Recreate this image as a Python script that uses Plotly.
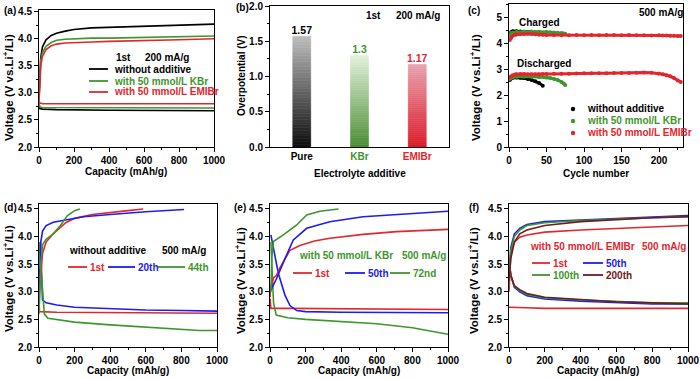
import plotly.graph_objects as go

W, H = 700, 379
FONT = "Liberation Sans, Arial, sans-serif"
RED = "#e3262d"
GREEN = "#3f962c"
BLUE = "#1c1cf5"
BLACK = "#000000"
BROWN = "#6e1c1c"

# ---------------- (a) 1st cycle, 200 mA/g ----------------
a_cap_chg = [0, 5, 10, 20, 40, 70, 100, 150, 200, 300, 400, 600, 800, 1000]
a_chg_none = [2.9, 3.4, 3.65, 3.85, 3.98, 4.06, 4.10, 4.14, 4.17, 4.20, 4.21, 4.23, 4.25, 4.27]
a_chg_kbr = [2.9, 3.35, 3.6, 3.75, 3.86, 3.93, 3.97, 3.99, 4.0, 4.01, 4.01, 4.02, 4.04, 4.05]
a_chg_emi = [2.85, 3.25, 3.5, 3.68, 3.80, 3.87, 3.90, 3.92, 3.93, 3.94, 3.95, 3.96, 3.98, 4.0]
a_cap_dis = [0, 5, 20, 100, 400, 700, 1000]
a_dis_none = [2.8, 2.71, 2.70, 2.69, 2.68, 2.67, 2.67]
a_dis_kbr = [2.8, 2.74, 2.73, 2.73, 2.72, 2.72, 2.72]
a_dis_emi = [2.85, 2.81, 2.80, 2.80, 2.80, 2.80, 2.80]

# ---------------- (b) overpotential ----------------
b_cats = ["Pure", "KBr", "EMIBr"]
b_vals = [1.57, 1.30, 1.17]
b_labels = ["1.57", "1.3", "1.17"]

# ---------------- (c) cycling at 500 mA/g ----------------
c_cyc_none = [1, 3, 5, 10, 15, 20, 25, 30, 35, 40, 45]
c_chg_none = [4.35, 4.42, 4.45, 4.45, 4.44, 4.43, 4.42, 4.41, 4.40, 4.39, 4.38]
c_dis_none = [2.58, 2.63, 2.66, 2.67, 2.66, 2.65, 2.62, 2.58, 2.53, 2.46, 2.36]
c_cyc_kbr = [1, 3, 5, 10, 20, 30, 40, 50, 55, 60, 65, 70, 73, 75]
c_chg_kbr = [4.30, 4.38, 4.40, 4.42, 4.43, 4.44, 4.43, 4.42, 4.41, 4.40, 4.39, 4.38, 4.37, 4.36]
c_dis_kbr = [2.62, 2.66, 2.68, 2.70, 2.71, 2.70, 2.69, 2.67, 2.65, 2.62, 2.58, 2.50, 2.44, 2.38]
c_cyc_emi = [1, 3, 5, 8, 10, 15, 20, 25, 30, 35, 40, 45, 50, 60, 70, 80, 90, 100, 110, 120,
             130, 140, 150, 160, 170, 180, 190, 200, 205, 210, 215, 220, 225, 229]
c_chg_emi = [4.12, 4.20, 4.28, 4.32, 4.33, 4.34, 4.35, 4.36, 4.35, 4.34, 4.32, 4.32, 4.31, 4.31,
             4.30, 4.30, 4.31, 4.30, 4.31, 4.30, 4.31, 4.31, 4.30, 4.31, 4.30, 4.30, 4.29, 4.30,
             4.29, 4.29, 4.28, 4.28, 4.27, 4.27]
c_dis_emi = [2.68, 2.72, 2.76, 2.79, 2.80, 2.81, 2.81, 2.80, 2.80, 2.80, 2.80, 2.81, 2.81, 2.82,
             2.82, 2.82, 2.83, 2.84, 2.84, 2.84, 2.84, 2.85, 2.85, 2.85, 2.86, 2.87, 2.86, 2.83,
             2.80, 2.76, 2.72, 2.65, 2.56, 2.50]

# ---------------- (d) without additive, 500 mA/g ----------------
d1_chg_x = [0, 3, 10, 20, 40, 80, 150, 200, 300, 400, 500, 585]
d1_chg_y = [2.65, 3.0, 3.3, 3.7, 3.9, 4.05, 4.25, 4.33, 4.40, 4.44, 4.47, 4.50]
d1_dis_x = [0, 3, 100, 500, 1000]
d1_dis_y = [2.8, 2.64, 2.63, 2.62, 2.61]
d20_chg_x = [0, 5, 10, 20, 40, 80, 150, 250, 400, 600, 815]
d20_chg_y = [2.9, 3.5, 3.9, 4.1, 4.2, 4.26, 4.30, 4.36, 4.40, 4.45, 4.49]
d20_dis_x = [8, 15, 20, 40, 100, 200, 400, 600, 800, 1000]
d20_dis_y = [3.9, 3.2, 2.85, 2.80, 2.76, 2.72, 2.69, 2.67, 2.66, 2.65]
d44_chg_x = [0, 10, 20, 40, 80, 120, 160, 200, 230]
d44_chg_y = [2.6, 3.5, 3.85, 3.95, 4.05, 4.2, 4.38, 4.47, 4.50]
d44_dis_x = [0, 10, 20, 30, 50, 100, 200, 400, 600, 800, 900, 1000]
d44_dis_y = [3.9, 3.5, 3.0, 2.6, 2.52, 2.50, 2.45, 2.40, 2.36, 2.33, 2.30, 2.30]

# ---------------- (e) 50 mmol/L KBr, 500 mA/g ----------------
e1_chg_x = [0, 5, 20, 37, 50, 75, 112, 168, 250, 336, 523, 710, 1000]
e1_chg_y = [2.9, 3.1, 3.25, 3.3, 3.4, 3.54, 3.75, 3.84, 3.92, 3.97, 4.04, 4.09, 4.13]
e1_dis_x = [0, 5, 100, 500, 1000]
e1_dis_y = [2.88, 2.70, 2.70, 2.69, 2.68]
e50_chg_x = [0, 37, 84, 131, 206, 336, 523, 710, 1000]
e50_chg_y = [3.0, 3.24, 3.6, 3.94, 4.15, 4.27, 4.36, 4.40, 4.46]
e50_dis_x = [5, 47, 84, 112, 150, 200, 400, 700, 1000]
e50_dis_y = [4.03, 3.33, 2.94, 2.75, 2.66, 2.64, 2.63, 2.62, 2.62]
e72_chg_x = [5, 10, 19, 40, 75, 150, 206, 280, 385]
e72_chg_y = [3.0, 3.6, 3.91, 3.95, 4.03, 4.21, 4.39, 4.46, 4.50]
e72_dis_x = [5, 10, 20, 35, 100, 200, 400, 600, 800, 1000]
e72_dis_y = [3.9, 3.5, 2.8, 2.58, 2.53, 2.50, 2.46, 2.42, 2.35, 2.23]

# ---------------- (f) 50 mmol/L EMIBr, 500 mA/g ----------------
f_cap = [0, 10, 30, 60, 100, 200, 400, 600, 800, 1000]
f1_chg_y = [3.0, 3.7, 3.9, 3.99, 4.03, 4.08, 4.12, 4.15, 4.17, 4.20]
f1_dis_y = [2.72, 2.72, 2.72, 2.71, 2.71, 2.70, 2.70, 2.70, 2.70, 2.70]
f50_chg_y = [3.3, 3.8, 4.05, 4.15, 4.22, 4.27, 4.30, 4.33, 4.35, 4.38]
f50_dis_y = [3.6, 3.3, 3.08, 3.0, 2.93, 2.87, 2.83, 2.80, 2.78, 2.78]
f100_chg_y = [3.3, 3.75, 4.0, 4.12, 4.2, 4.25, 4.29, 4.32, 4.34, 4.36]
f100_dis_y = [3.6, 3.3, 3.1, 3.02, 2.95, 2.89, 2.85, 2.82, 2.80, 2.80]
f200_chg_y = [3.2, 3.6, 3.9, 4.05, 4.12, 4.2, 4.27, 4.31, 4.34, 4.36]
f200_dis_y = [3.55, 3.3, 3.11, 3.04, 2.97, 2.90, 2.86, 2.82, 2.80, 2.78]


def xd(l, r):
    return [l / W, r / W]


def yd(t, b):
    return [1 - b / H, 1 - t / H]


def px(x):
    return x / W


def py(y):
    return 1 - y / H


fig = go.Figure()


def line(x, y, color, xa, ya, w=1.6):
    fig.add_trace(go.Scatter(x=x, y=y, mode="lines", line=dict(color=color, width=w),
                             xaxis=xa, yaxis=ya, showlegend=False, hoverinfo="skip"))


# (a)
for xs, ys, c in [(a_cap_dis, a_dis_none, BLACK), (a_cap_dis, a_dis_kbr, GREEN), (a_cap_dis, a_dis_emi, RED),
                  (a_cap_chg, a_chg_none, BLACK), (a_cap_chg, a_chg_kbr, GREEN), (a_cap_chg, a_chg_emi, RED)]:
    line(xs, ys, c, "x", "y")

# (b) gradient bars built from stacked segments
N = 40
grad = {"Pure": ("#0c0c0c", "#bdbdbd"), "KBr": ("#4a8c34", "#e2f1da"), "EMIBr": ("#dc1a28", "#e8a3b0")}


def mix(c1, c2, t):
    a = [int(c1[i:i + 2], 16) for i in (1, 3, 5)]
    b = [int(c2[i:i + 2], 16) for i in (1, 3, 5)]
    return "rgb(%d,%d,%d)" % tuple(round(a[k] + (b[k] - a[k]) * t) for k in range(3))


for cat, v in zip(b_cats, b_vals):
    c1, c2 = grad[cat]
    cols = [mix(c1, c2, (i + 0.5) / N) for i in range(N)]
    fig.add_trace(go.Bar(x=[cat] * N, y=[v / N] * N, base=[i * v / N for i in range(N)],
                         marker=dict(color=cols, line=dict(width=0.6, color=cols)),
                         width=0.31, xaxis="x2", yaxis="y2", showlegend=False, hoverinfo="skip"))
fig.add_trace(go.Scatter(x=b_cats, y=b_vals, mode="text", text=b_labels, textposition="top center",
                         textfont=dict(family=FONT, size=10.5, color=[BLACK, GREEN, RED], weight="bold"),
                         xaxis="x2", yaxis="y2", showlegend=False, hoverinfo="skip"))

# (c)
for xs, ys, c in [(c_cyc_none, c_chg_none, BLACK), (c_cyc_none, c_dis_none, BLACK),
                  (c_cyc_kbr, c_chg_kbr, GREEN), (c_cyc_kbr, c_dis_kbr, GREEN),
                  (c_cyc_emi, c_chg_emi, RED), (c_cyc_emi, c_dis_emi, RED)]:
    fig.add_trace(go.Scatter(x=xs, y=ys, mode="lines+markers", line=dict(color=c, width=3),
                             marker=dict(color=c, size=4), xaxis="x3", yaxis="y3",
                             showlegend=False, hoverinfo="skip"))

# (d)
for xs, ys, c in [(d1_dis_x, d1_dis_y, RED), (d20_dis_x, d20_dis_y, BLUE), (d44_dis_x, d44_dis_y, GREEN),
                  (d1_chg_x, d1_chg_y, RED), (d20_chg_x, d20_chg_y, BLUE), (d44_chg_x, d44_chg_y, GREEN)]:
    line(xs, ys, c, "x4", "y4")

# (e)
for xs, ys, c in [(e1_dis_x, e1_dis_y, RED), (e50_dis_x, e50_dis_y, BLUE), (e72_dis_x, e72_dis_y, GREEN),
                  (e1_chg_x, e1_chg_y, RED), (e50_chg_x, e50_chg_y, BLUE), (e72_chg_x, e72_chg_y, GREEN)]:
    line(xs, ys, c, "x5", "y5")

# (f)
for ys, c in [(f1_dis_y, RED), (f50_dis_y, BLUE), (f100_dis_y, GREEN), (f200_dis_y, BROWN),
              (f1_chg_y, RED), (f50_chg_y, BLUE), (f100_chg_y, GREEN), (f200_chg_y, BROWN)]:
    line(f_cap, ys, c, "x6", "y6")

tickfont = dict(family=FONT, size=10, color="black", weight="bold")


def ax(domain, rng, dtick=None, minor=None, fmt=None, anchor=None, **kw):
    d = dict(domain=domain, range=rng, showline=True, linecolor="black", linewidth=1, mirror=True,
             ticks="outside", ticklen=4, tickwidth=1, tickcolor="black", tickfont=tickfont,
             showgrid=False, zeroline=False, anchor=anchor, automargin=False)
    if dtick is not None:
        d["dtick"] = dtick
        d["tick0"] = 0
    if minor is not None:
        d["minor"] = dict(ticks="outside", ticklen=2, tickwidth=1, tickcolor="black", dtick=minor, tick0=0,
                          showgrid=False)
    if fmt:
        d["tickformat"] = fmt
    d.update(kw)
    return d


TOP_B = 147
BOT_B = 347
layout = dict(
    template="none",
    width=W, height=H, margin=dict(l=0, r=0, t=0, b=0, pad=0, autoexpand=False),
    paper_bgcolor="white", plot_bgcolor="white",
    barmode="overlay", showlegend=False,
    xaxis=ax(xd(39, 214), [0, 1000], 200, 100, None, "y"),
    yaxis=ax(yd(10, TOP_B), [2.0, 4.53], 0.5, 0.25, ".1f", "x"),
    xaxis2=ax(xd(270, 449), [-0.55, 2.55], None, None, None, "y2", type="category",
              categoryorder="array", categoryarray=b_cats, ticks="", tickmode="array", tickvals=b_cats,
              ticktext=["Pure", "<span style='color:%s'>KBr</span>" % GREEN,
                        "<span style='color:%s'>EMIBr</span>" % RED]),
    yaxis2=ax(yd(6, TOP_B), [0, 2.0], 0.5, 0.25, ".1f", "x2"),
    xaxis3=ax(xd(509, 683), [0, 232], 50, 25, None, "y3"),
    yaxis3=ax(yd(4, TOP_B), [0, 5.5], 1, 0.5, None, "x3"),
    xaxis4=ax(xd(39, 217), [0, 1000], 200, 100, None, "y4"),
    yaxis4=ax(yd(204, BOT_B), [2.0, 4.59], 0.5, 0.25, ".1f", "x4"),
    xaxis5=ax(xd(270, 448), [0, 1000], 200, 100, None, "y5"),
    yaxis5=ax(yd(204, BOT_B), [2.0, 4.59], 0.5, 0.25, ".1f", "x5"),
    xaxis6=ax(xd(509, 688), [0, 1000], 200, 100, None, "y6"),
    yaxis6=ax(yd(204, BOT_B), [2.0, 4.59], 0.5, 0.25, ".1f", "x6"),
)
fig.update_layout(**layout)

annotations = []
shapes = []


def txt(s, x, y, color=BLACK, size=10, xanchor="left", angle=0):
    annotations.append(dict(text=s, x=px(x), y=py(y), xref="paper", yref="paper", showarrow=False,
                            xanchor=xanchor, yanchor="middle", textangle=angle,
                            font=dict(family=FONT, size=size, color=color, weight="bold")))


def seg(x0, x1, y, color, w=1.8):
    shapes.append(dict(type="line", xref="paper", yref="paper", x0=px(x0), x1=px(x1), y0=py(y), y1=py(y),
                       line=dict(color=color, width=w)))


def dot(x, y, color, r=2.2):
    shapes.append(dict(type="circle", xref="paper", yref="paper", x0=px(x - r), x1=px(x + r),
                       y0=py(y + r), y1=py(y - r), fillcolor=color, line=dict(width=0)))


VT = "Voltage (V vs.Li<sup>+</sup>/Li)"
CAP = "Capacity (mAh/g)"
VS = 11.5

# panel labels
for lab, x, y in [("(a)", 2, 11), ("(b)", 234, 8), ("(c)", 466, 10), ("(d)", 2, 207), ("(e)", 232, 207),
                  ("(f)", 467, 207)]:
    txt(lab, x, y)

# axis titles
txt(VT, 8, 88, xanchor="center", angle=-90, size=VS)
txt(CAP, 126, 172, xanchor="center")
txt("Overpotential (V)", 242, 76, xanchor="center", angle=-90)
txt("Electrolyte additive", 360, 173, xanchor="center")
txt(VT, 475, 88, xanchor="center", angle=-90, size=VS)
txt("Cycle number", 596, 173, xanchor="center")
txt(VT, 8, 279, xanchor="center", angle=-90, size=VS)
txt(CAP, 128, 370, xanchor="center")
txt(VT, 240, 281, xanchor="center", angle=-90, size=VS)
txt(CAP, 359, 370, xanchor="center")
txt(VT, 473, 281, xanchor="center", angle=-90, size=VS)
txt(CAP, 598, 370, xanchor="center")

# (a) legend
txt("1st", 114, 57)
txt("200 mA/g", 143, 57)
for y, c, s in [(69, BLACK, "without additive"), (81, GREEN, "with 50 mmol/L KBr"),
                (92, RED, "with 50 mmol/L EMIBr")]:
    seg(89, 108, y, c)
    txt(s, 112, y, color=c)

# (b)
txt("1st", 364, 15)
txt("200 mA/g", 394, 15)

# (c)
txt("500 mA/g", 637, 12)
txt("Charged", 517, 23)
txt("Discharged", 515, 63)
for y, c, s in [(109, BLACK, "without additive"), (121, GREEN, "with 50 mmol/L KBr"),
                (133, RED, "with 50 mmol/L EMIBr")]:
    dot(573, y, c)
    txt(s, 585, y, color=c)

# (d)
txt("without additive", 67, 250)
txt("500 mA/g", 160, 250)
for x0, x1, c, s in [(68, 87, RED, "1st"), (108, 135, BLUE, "20th"), (158, 185, GREEN, "44th")]:
    seg(x0, x1, 267, c)
    txt(s, x1 + 1, 267, color=c)

# (e)
txt("with 50 mmol/L KBr", 297, 255, color=GREEN)
txt("500 mA/g", 400, 255, color=GREEN)
for x0, x1, c, s in [(293, 312, RED, "1st"), (345, 365, BLUE, "50th"), (390, 410, GREEN, "72nd")]:
    seg(x0, x1, 273, c)
    txt(s, x1 + 1, 273, color=c)

# (f)
txt("with 50 mmol/L EMIBr", 528, 246, color=RED)
txt("500 mA/g", 640, 246, color=RED)
for x0, x1, y, c, s in [(532, 550, 263, RED, "1st"), (583, 603, 263, BLUE, "50th"),
                        (532, 550, 275, GREEN, "100th"), (583, 603, 275, BROWN, "200th")]:
    seg(x0, x1, y, c)
    txt(s, x1 + 1, y, color=c)

fig.update_layout(annotations=annotations, shapes=shapes)
fig.write_html("out.html", config={"displayModeBar": False, "staticPlot": True},
               post_script="document.body.style.margin='0';document.body.style.overflow='hidden';")
